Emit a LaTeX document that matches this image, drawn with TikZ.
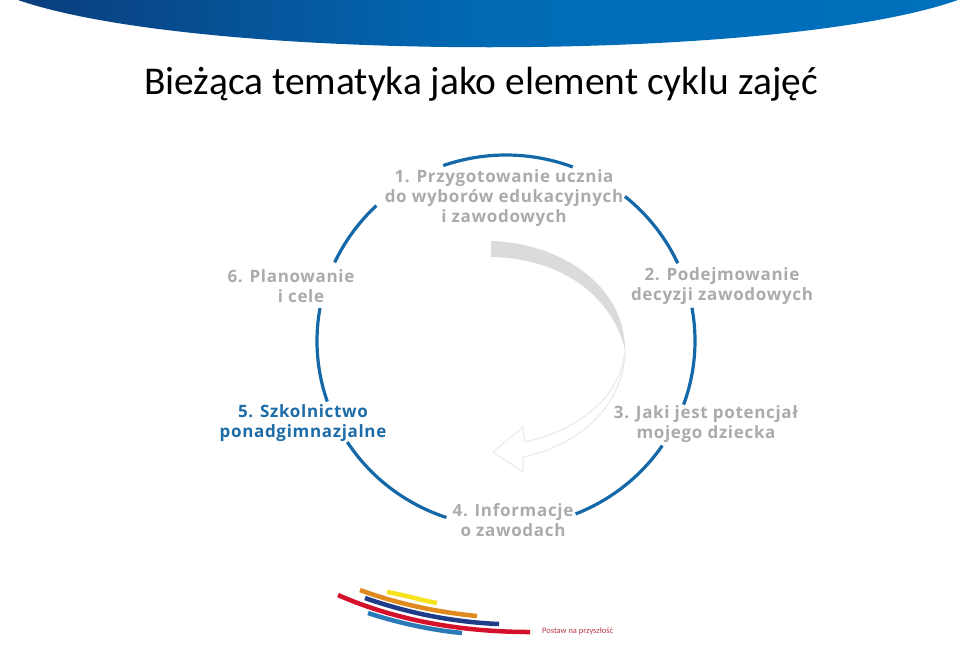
\documentclass[tikz,border=0pt]{standalone}
\usepackage{fontspec}
\setmainfont{Carlito}
\newfontfamily\lab[LetterSpace=4]{Open Sans Bold}
\usetikzlibrary{calc}
\definecolor{ringblue}{HTML}{1468A8}
\definecolor{labgray}{HTML}{ABABAB}
\definecolor{labblue}{HTML}{1D6CA8}
\definecolor{hdark}{HTML}{0A3D7C}
\definecolor{hmid}{HTML}{0070BC}
\definecolor{logored}{HTML}{D5102A}
\definecolor{logoorange}{HTML}{E08A1E}
\definecolor{logoyellow}{HTML}{F7E21E}
\definecolor{logonavy}{HTML}{1F3C88}
\definecolor{logoblue}{HTML}{2A7AB8}
\tikzset{
  ringarc/.style={draw=ringblue,line width=3.2pt,line cap=butt},
  steplabel/.style={font=\lab\fontsize{17}{20}\selectfont,text=labgray,align=center,inner sep=0pt,anchor=center},
  logostroke/.style={line width=4.5pt,line cap=butt},
}
\newcommand{\ringseg}[2]{\draw[ringarc] plot[smooth,domain=#1:#2,samples=30,variable=\t] ({506+189*cos(\t)},{341+186*sin(\t)});}
\begin{document}
\begin{tikzpicture}[x=1pt,y=-1pt]
\useasboundingbox (0,0) rectangle (960,648);
\fill[white] (0,0) rectangle (960,648);
% header
\begin{scope}
\clip (18,0) .. controls (200,63) and (780,63) .. (958,0) -- cycle;
\shade[left color=hdark,right color=hmid,middle color=hmid!90!hdark] (18,0) rectangle (960,50);
\end{scope}
\node[font=\fontsize{39.4}{42}\selectfont,text=black,inner sep=0pt] (title) at (481,84) {Bieżąca tematyka jako element cyklu zajęć};
% ring
\ringseg{-109.4}{-69.3}
\ringseg{-51}{-24.7}
\ringseg{-10.3}{20}
\ringseg{34.2}{68.4}
\ringseg{108.4}{147.1}
\ringseg{161}{190.2}
\ringseg{205}{226.7}
% swoosh
\draw[draw=black!8,fill=white,line width=1.2pt,line join=miter]
  (625,350) .. controls (625,400) and (585,444) .. (523,457)
  -- (523,472) -- (493,452) -- (523,427) -- (525,442)
  .. controls (580,430) and (622,395) .. (625,350) -- cycle;
\fill[black!14] (491,241) .. controls (560,243) and (625,285) .. (625,350)
  .. controls (612,295) and (560,258) .. (491,257) -- cycle;
% labels
\node[steplabel] (l1) at (504,198) {1. Przygotowanie ucznia\\do wyborów edukacyjnych\\i zawodowych};
\node[steplabel] (l2) at (722,286) {2. Podejmowanie\\decyzji zawodowych};
\node[steplabel] (l3) at (706,424) {3. Jaki jest potencjał\\mojego dziecka};
\node[steplabel] (l4) at (513,520) {4. Informacje\\o zawodach};
\node[steplabel,text=labblue] (l5) at (303,423) {5. Szkolnictwo\\ponadgimnazjalne};
\node[steplabel] (l6) at (291,286) {6. Planowanie\\\hspace*{20pt}i cele};
% logo
\draw[logostroke,draw=logoyellow] (387,592) .. controls (405,595) and (420,600) .. (437,603);
\draw[logostroke,draw=logoorange] (360,590) .. controls (395,603) and (435,612) .. (477,616);
\draw[logostroke,draw=logonavy] (365,598) .. controls (405,612) and (450,622) .. (499,624);
\draw[logostroke,draw=logored] (338,595) .. controls (390,618) and (455,632) .. (530,632);
\draw[logostroke,draw=logoblue] (368,613) .. controls (395,622) and (430,630) .. (462,633);
\node[font=\fontsize{8.4}{10}\selectfont,text=logored!65!gray,inner sep=0pt,anchor=west] (slogan) at (542,631) {Postaw na przyszłość};
\end{tikzpicture}
\end{document}
